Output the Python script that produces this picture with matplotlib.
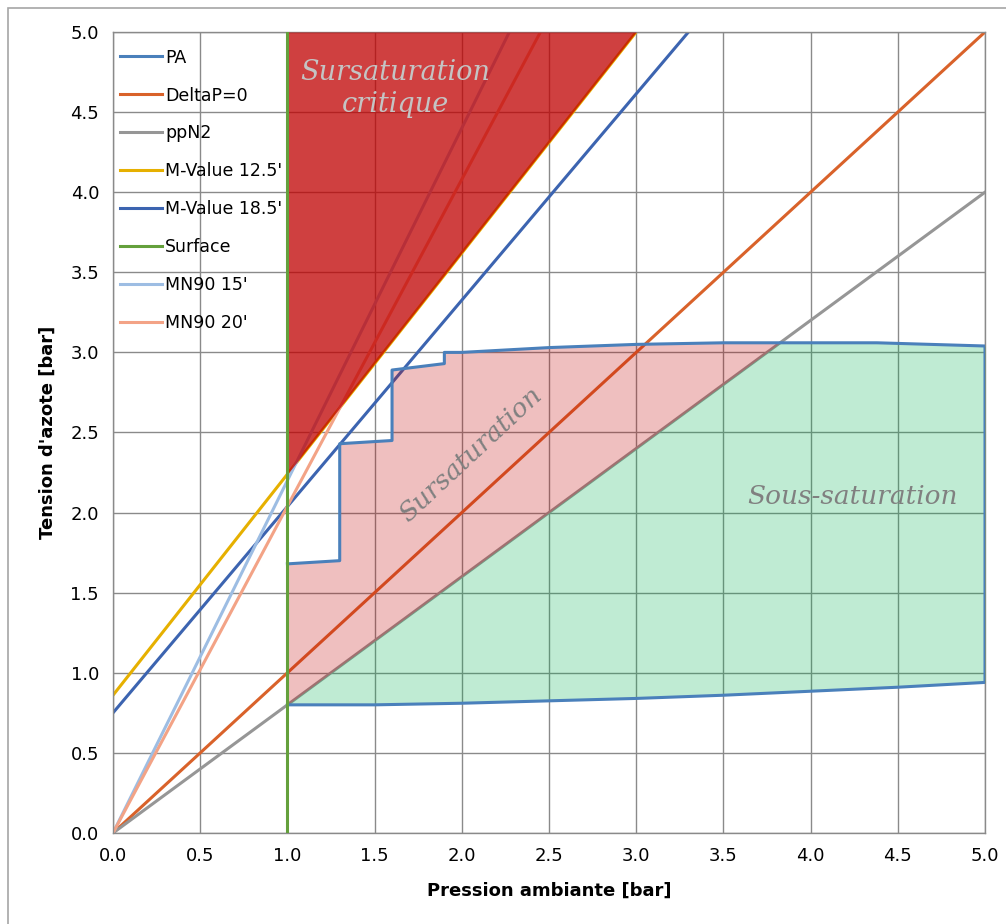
import numpy as np
import matplotlib
matplotlib.use("Agg")
import matplotlib.pyplot as plt
from matplotlib.patches import Rectangle

# === Données ===
# courbe PA (pression ambiante -> tension d'azote) : descente puis remontée avec paliers
pa_x = [1.0, 1.5, 2.0, 2.5, 3.0, 3.5, 4.0, 4.5, 5.0,
        5.0, 4.38, 3.5, 3.0, 2.5, 2.0, 1.9, 1.9, 1.6, 1.6, 1.3, 1.3, 1.0]
pa_y = [0.80, 0.80, 0.81, 0.825, 0.84, 0.86, 0.885, 0.91, 0.94,
        3.04, 3.06, 3.06, 3.05, 3.03, 3.00, 3.00, 2.93, 2.89, 2.45, 2.43, 1.70, 1.68]

# droites : (x début, x fin, ordonnée à l'origine, pente)
mv125 = (0.0, 3.0, 0.86, 1.38)
mv185 = (0.0, 3.3, 0.75, 1.288)
mn90_15 = (0.0, 2.27, 0.0, 2.2)
mn90_20 = (0.0, 2.45, 0.0, 2.04)
deltap = (0.0, 5.0, 0.0, 1.0)
ppn2 = (0.0, 5.0, 0.0, 0.8)

ticks = [0.0, 0.5, 1.0, 1.5, 2.0, 2.5, 3.0, 3.5, 4.0, 4.5, 5.0]

def droite(d):
    x = np.array([d[0], d[1]])
    return x, d[2] + d[3] * x

fig = plt.figure(figsize=(10.06, 9.24), dpi=100)
ax = fig.add_axes([113 / 1006, 1 - 833 / 924, 872 / 1006, 801 / 924])

# bordure du graphique (style Excel)
fig.patches.append(Rectangle((8 / 1006, -0.05), 1.1, 1 - 8 / 924 + 0.05,
                             transform=fig.transFigure, fill=False,
                             edgecolor="#a6a6a6", linewidth=1.2))

lw = 2.2
x, y = droite(deltap)
l_dp, = ax.plot(x, y, color="#d9622a", lw=lw, zorder=2, label="DeltaP=0")
x, y = droite(ppn2)
l_pp, = ax.plot(x, y, color="#969696", lw=lw, zorder=2, label="ppN2")
x, y = droite(mv125)
l_m1, = ax.plot(x, y, color="#e6b000", lw=lw, zorder=2, label="M-Value 12.5'")
x, y = droite(mv185)
l_m2, = ax.plot(x, y, color="#3c64b0", lw=lw, zorder=2, label="M-Value 18.5'")
x, y = droite(mn90_15)
l_15, = ax.plot(x, y, color="#9dbde3", lw=lw, zorder=2, label="MN90 15'")
x, y = droite(mn90_20)
l_20, = ax.plot(x, y, color="#f3a386", lw=lw, zorder=2, label="MN90 20'")

# === zones ===
# sursaturation critique : au-dessus de M-Value 12.5'
xc = np.array([1.0, mv125[1]])
ax.fill_between(xc, mv125[2] + mv125[3] * xc, 5.0, color="#c00000", alpha=0.75,
                lw=0, zorder=3)

# courbes haute / basse de PA
n_bas = 9
bas_x, bas_y = np.array(pa_x[:n_bas]), np.array(pa_y[:n_bas])
haut_x, haut_y = np.array(pa_x[n_bas:][::-1]), np.array(pa_y[n_bas:][::-1])
xs = np.linspace(1.0, 5.0, 2001)
haut = np.interp(xs, haut_x, haut_y)
lin = ppn2[3] * xs
bas = np.interp(xs, bas_x, bas_y)

# sursaturation : entre ppN2 et PA haut
ax.fill_between(haut_x, ppn2[3] * haut_x, haut_y,
                where=haut_y >= ppn2[3] * haut_x - 1e-9, interpolate=True,
                color="#c00000", alpha=0.25, lw=0, zorder=3)
# sous-saturation : entre PA bas et min(ppN2, PA haut)
ax.fill_between(xs, bas, np.minimum(lin, haut), color="#00b050", alpha=0.25,
                lw=0, zorder=3)

l_pa, = ax.plot(pa_x, pa_y, color="#4a80bb", lw=lw, zorder=4, label="PA")
l_sf, = ax.plot([1.0, 1.0], [0.0, 5.0], color="#64a03c", lw=lw, zorder=4,
                label="Surface")

# === textes ===
ax.text(1.62, 4.645, "Sursaturation\ncritique", fontsize=19.5, family="DejaVu Serif",
        style="italic", color="#c4c4c4", ha="center", va="center",
        linespacing=1.25, zorder=5)
ax.text(2.05, 2.36, "Sursaturation", fontsize=19, family="DejaVu Serif",
        style="italic", color="#808080", ha="center", va="center",
        rotation=43, zorder=5)
ax.text(4.24, 2.10, "Sous-saturation", fontsize=19, family="DejaVu Serif",
        style="italic", color="#808080", ha="center", va="center", zorder=5)

# === axes ===
ax.set_xlim(0, 5)
ax.set_ylim(0, 5)
ax.set_xticks(ticks)
ax.set_yticks(ticks)
ax.set_xticklabels([f"{t:.1f}" for t in ticks])
ax.set_yticklabels([f"{t:.1f}" for t in ticks])
ax.tick_params(length=0, labelsize=13, pad=10, colors="black")
ax.grid(True, color="#8a8a8a", lw=1.0, zorder=1)
ax.set_axisbelow(True)
for s in ax.spines.values():
    s.set_color("#8a8a8a")
    s.set_linewidth(1.0)
ax.set_xlabel("Pression ambiante [bar]", fontsize=13, fontweight="bold", labelpad=12)
ax.set_ylabel("Tension d'azote [bar]", fontsize=13, fontweight="bold", labelpad=10)

ax.legend(handles=[l_pa, l_dp, l_pp, l_m1, l_m2, l_sf, l_15, l_20],
          loc="upper left", frameon=False, fontsize=12.5, handlelength=2.4,
          labelspacing=1.15, handletextpad=0.2, borderaxespad=0.0,
          bbox_to_anchor=(0.0, 0.988))

plt.savefig("out.png", dpi=100)
